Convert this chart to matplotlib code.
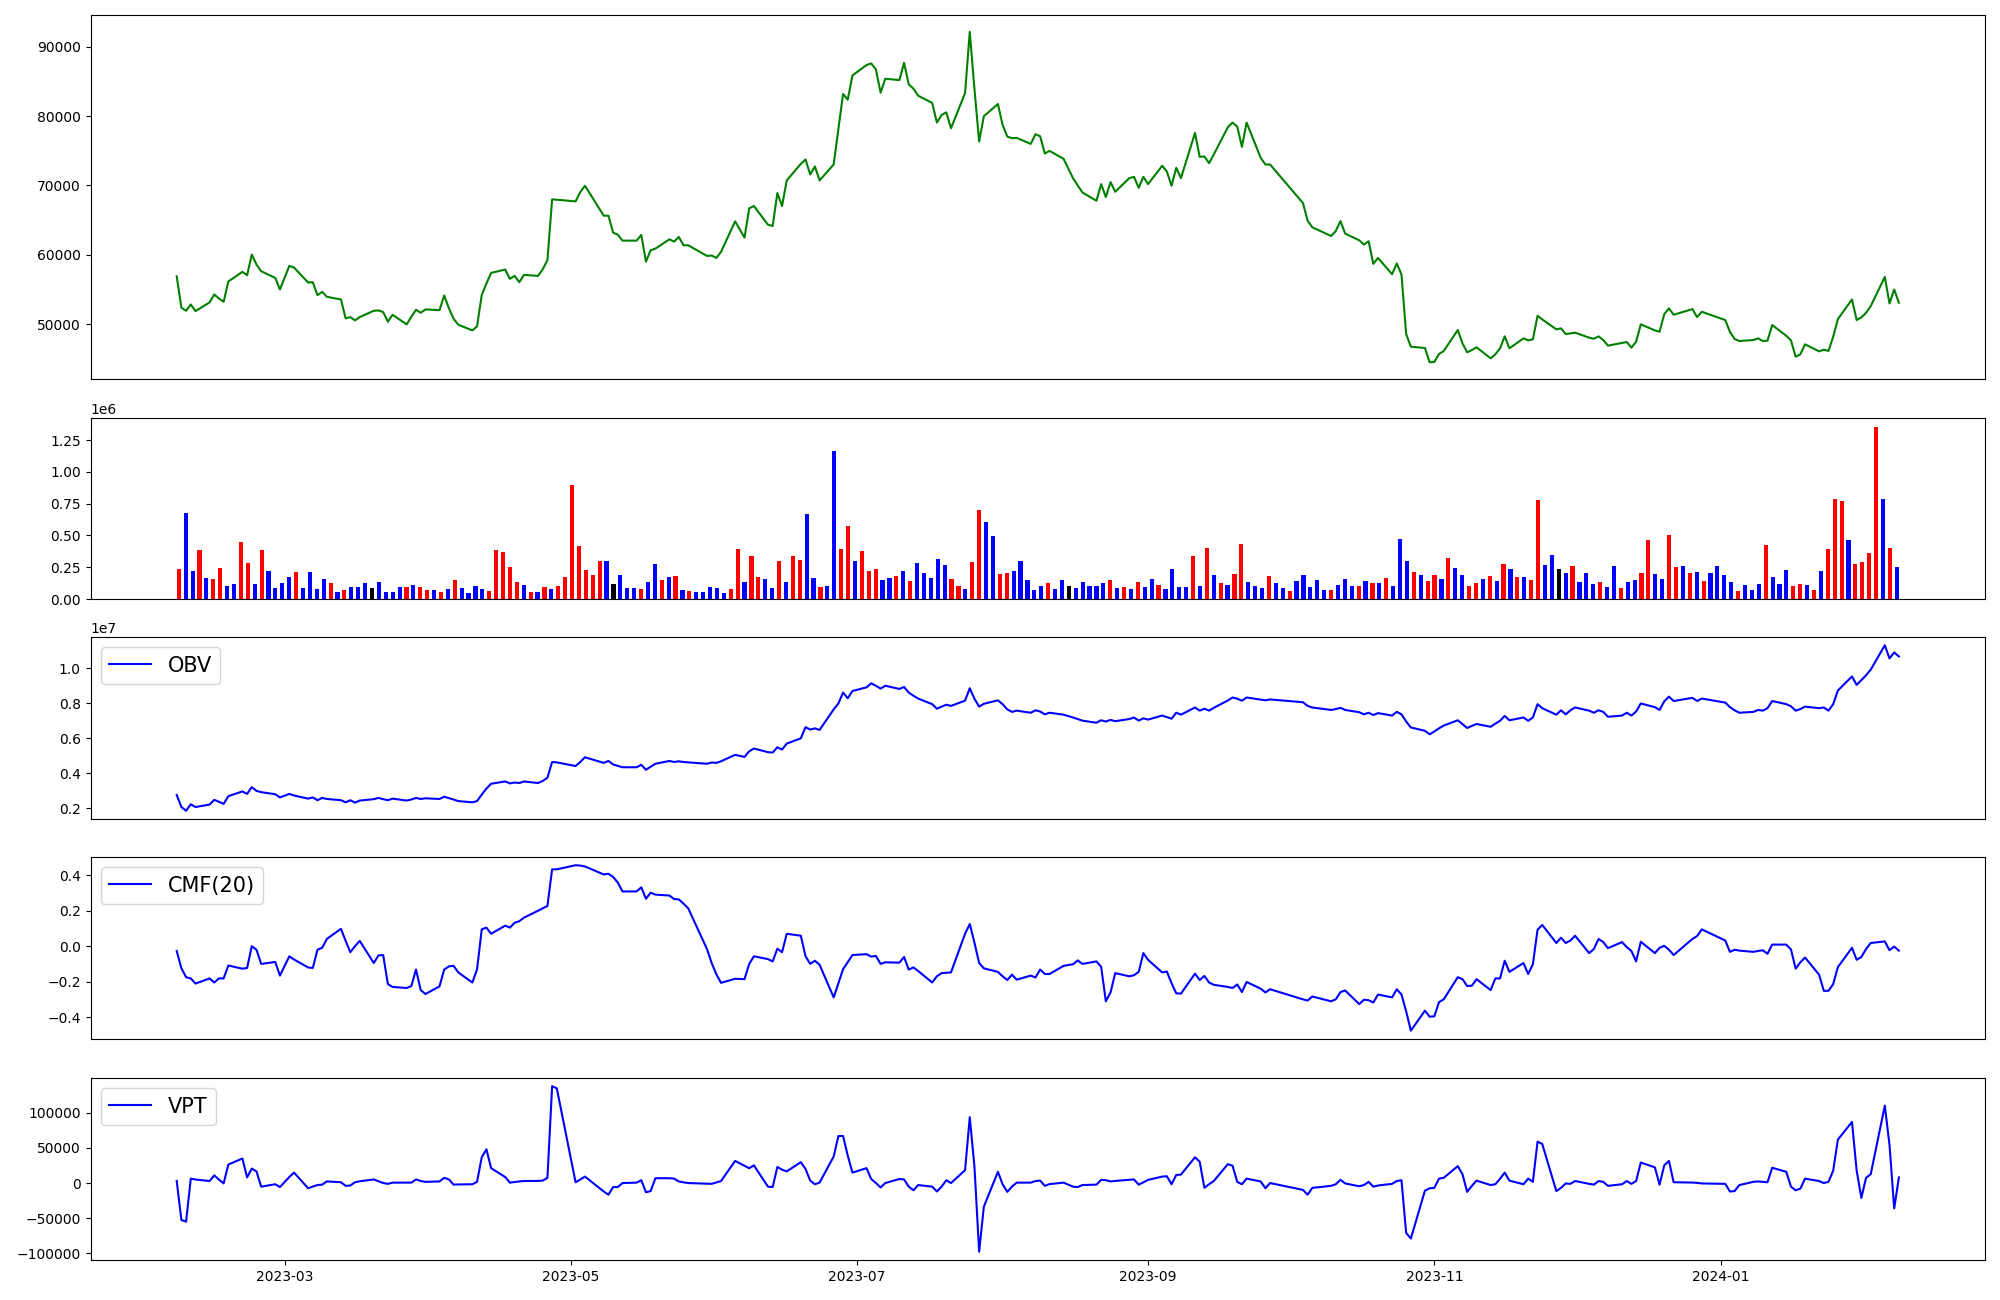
import matplotlib
matplotlib.use("Agg")
import matplotlib.pyplot as plt
import matplotlib.dates as mdates
import numpy as np
import pandas as pd

# ---- trading calendar (KRX business days) ----
start_date = "2023-02-06"
end_date = "2024-02-08"
holidays = ["2023-03-01", "2023-05-01", "2023-05-05", "2023-05-29", "2023-06-06",
            "2023-08-15", "2023-09-28", "2023-09-29", "2023-10-02", "2023-10-03",
            "2023-10-09", "2023-12-25", "2023-12-29", "2024-01-01"]

# ---- close price ----
close = [
    56900, 52360, 51930, 52840, 51880, 53130, 54280, 53700, 53220, 56150,
    57540, 57060, 60030, 58590, 57630, 56670, 55000, 58400, 58160, 56000,
    56050, 54180, 54660, 53940, 53560, 50830, 51020, 50540, 51020, 51930,
    51980, 51740, 50350, 51350, 49960, 51070, 52070, 51640, 52120, 52020,
    54130, 52300, 50780, 49920, 49100, 49680, 54180, 55860, 57390, 57870,
    56530, 56960, 56050, 57100, 56960, 57920, 59210, 67990, 67940, 67700,
    69040, 69950, 65640, 65640, 63190, 62900, 62040, 62040, 62860, 59020,
    60650, 60890, 62230, 61900, 62570, 61370, 61370, 59840, 59890, 59550,
    60420, 64820, 62470, 66700, 67030, 64340, 64150, 68900, 67030, 70720,
    73110, 73740, 71580, 72730, 70720, 73020, 78100, 83180, 82360, 85860,
    87350, 87590, 86730, 83370, 85380, 85190, 87680, 84570, 83950, 82940,
    81890, 79060, 80160, 80540, 78240, 83320, 92140, 83900, 76330, 79970,
    81740, 78720, 77040, 76810, 76850, 75990, 77380, 77090, 74600, 74980,
    73830, 71050, 70000, 68990, 67790, 70190, 68320, 70480, 69090, 71050,
    71240, 69660, 71240, 70190, 72830, 72010, 69950, 72540, 71050, 77570,
    74120, 74170, 73210, 74460, 78390, 79060, 78480, 75560, 79060, 73980,
    73020, 73020, 67460, 64920, 63960, 62710, 63430, 64870, 63050, 62090,
    61470, 61950, 58690, 59550, 57200, 58740, 57150, 48570, 46750, 46560,
    44500, 44550, 45700, 46130, 49150, 47230, 45940, 46270, 46660, 45070,
    45650, 46510, 48240, 46510, 47950, 47660, 47810, 51210, 50680, 49250,
    49390, 48570, 48670, 48770, 48050, 47900, 48240, 47710, 46900, 47280,
    47420, 46610, 47470, 49970, 49100, 48910, 51450, 52270, 51350, 52170,
    51020, 51790, 50590, 48860, 47860, 47570, 47710, 47950, 47570, 47620,
    49870, 48330, 47660, 45310, 45650, 47090, 46080, 46320, 46130, 48190,
    50730, 53560, 50590, 50970, 51640, 52600, 56820, 52980, 55000, 53080,
]

# ---- volume (millions of shares) ----
volume_m = [
    0.235, 0.68, 0.22, 0.384, 0.165, 0.157, 0.243, 0.10, 0.117, 0.446,
    0.282, 0.117, 0.384, 0.22, 0.086, 0.125, 0.172, 0.211, 0.086, 0.211,
    0.078, 0.157, 0.125, 0.055, 0.07, 0.094, 0.094, 0.125, 0.086, 0.133,
    0.055, 0.055, 0.094, 0.094, 0.11, 0.094, 0.07, 0.07, 0.055, 0.078,
    0.149, 0.086, 0.047, 0.10, 0.078, 0.063, 0.384, 0.368, 0.25, 0.133,
    0.11, 0.055, 0.055, 0.094, 0.078, 0.10, 0.172, 0.90, 0.415, 0.227,
    0.188, 0.298, 0.298, 0.117, 0.188, 0.086, 0.086, 0.078, 0.133, 0.274,
    0.149, 0.172, 0.18, 0.07, 0.063, 0.055, 0.055, 0.094, 0.086, 0.047,
    0.078, 0.39, 0.133, 0.337, 0.172, 0.157, 0.086, 0.298, 0.133, 0.337,
    0.305, 0.666, 0.165, 0.094, 0.10, 1.167, 0.39, 0.572, 0.298, 0.376,
    0.22, 0.235, 0.149, 0.165, 0.18, 0.22, 0.141, 0.282, 0.204, 0.165,
    0.313, 0.266, 0.157, 0.10, 0.078, 0.29, 0.697, 0.603, 0.493, 0.196,
    0.204, 0.22, 0.298, 0.149, 0.07, 0.10, 0.125, 0.078, 0.149, 0.10,
    0.086, 0.133, 0.10, 0.10, 0.125, 0.149, 0.086, 0.094, 0.078, 0.133,
    0.094, 0.157, 0.11, 0.078, 0.235, 0.094, 0.094, 0.337, 0.10, 0.40,
    0.188, 0.125, 0.11, 0.196, 0.431, 0.133, 0.10, 0.086, 0.18, 0.125,
    0.086, 0.063, 0.141, 0.188, 0.094, 0.149, 0.07, 0.07, 0.11, 0.157,
    0.10, 0.10, 0.141, 0.125, 0.125, 0.165, 0.10, 0.47, 0.298, 0.211,
    0.188, 0.141, 0.188, 0.157, 0.321, 0.243, 0.188, 0.10, 0.125, 0.157,
    0.18, 0.141, 0.274, 0.235, 0.172, 0.172, 0.149, 0.775, 0.266, 0.345,
    0.235, 0.204, 0.258, 0.133, 0.204, 0.117, 0.133, 0.094, 0.258, 0.086,
    0.133, 0.149, 0.204, 0.462, 0.196, 0.157, 0.501, 0.25, 0.258, 0.204,
    0.211, 0.141, 0.204, 0.258, 0.188, 0.133, 0.063, 0.11, 0.07, 0.117,
    0.423, 0.172, 0.117, 0.227, 0.10, 0.117, 0.11, 0.07, 0.22, 0.39,
    0.783, 0.768, 0.462, 0.274, 0.29, 0.36, 1.355, 0.783, 0.40, 0.25,
]

# candle colour of each day: r = up, b = down, k = flat
bar_colour_codes = (
    "rbbrbrrbbr" "rbrbbbbrbb" "bbrbrbbbkb" "bbbrbrrbrb" "rbbbbrrrrr"
    "brbrbrrrrr" "rrbkbbbrbb" "rbrbrbbbbb" "rrbrrbbrbr" "rbbrbbrrbr"
    "rrbbrbrbbb" "bbrrbrrbbr" "rbbbbbrbbk" "bbbbbrbrbr" "bbrbbbbrbr"
    "brbrrbbbrb" "brbbbbbrbb" "brbrbrbbbr" "brrbrbbrrb" "rbrbrbrrbb"
    "kbrbbbrbbr" "bbrrbbrrbr" "brbbbbrbbb" "rbbbrrbrbr" "rrbrrrrbrb"
)

# ---- On-Balance Volume (millions) ----
obv_m = [
    2.76, 2.07, 1.86, 2.23, 2.07, 2.21, 2.48, 2.37, 2.25, 2.69,
    2.96, 2.82, 3.21, 2.99, 2.92, 2.80, 2.62, 2.82, 2.73, 2.55,
    2.62, 2.46, 2.59, 2.53, 2.46, 2.34, 2.46, 2.32, 2.44, 2.52,
    2.59, 2.52, 2.46, 2.55, 2.44, 2.50, 2.59, 2.53, 2.57, 2.53,
    2.66, 2.58, 2.50, 2.41, 2.34, 2.41, 2.78, 3.12, 3.40, 3.53,
    3.42, 3.47, 3.44, 3.53, 3.44, 3.56, 3.74, 4.64, 4.62, 4.41,
    4.64, 4.91, 4.59, 4.70, 4.50, 4.42, 4.34, 4.34, 4.48, 4.20,
    4.37, 4.54, 4.70, 4.64, 4.68, 4.64, 4.62, 4.54, 4.61, 4.59,
    4.68, 5.05, 4.93, 5.25, 5.41, 5.20, 5.18, 5.48, 5.35, 5.69,
    5.99, 6.63, 6.49, 6.56, 6.47, 7.64, 7.98, 8.60, 8.28, 8.69,
    8.90, 9.13, 8.99, 8.83, 8.99, 8.81, 8.92, 8.60, 8.42, 8.26,
    7.94, 7.68, 7.80, 7.91, 7.84, 8.14, 8.85, 8.25, 7.80, 7.96,
    8.16, 7.94, 7.64, 7.50, 7.57, 7.45, 7.59, 7.52, 7.36, 7.45,
    7.34, 7.18, 7.09, 7.00, 6.88, 7.02, 6.95, 7.04, 6.97, 7.09,
    7.18, 7.00, 7.13, 7.06, 7.29, 7.20, 7.11, 7.45, 7.34, 7.75,
    7.57, 7.68, 7.57, 7.73, 8.15, 8.32, 8.25, 8.14, 8.32, 8.20,
    8.16, 8.21, 8.05, 7.84, 7.75, 7.61, 7.66, 7.73, 7.61, 7.48,
    7.36, 7.45, 7.32, 7.43, 7.29, 7.50, 7.36, 6.95, 6.61, 6.42,
    6.22, 6.38, 6.56, 6.72, 7.02, 6.80, 6.58, 6.70, 6.81, 6.65,
    6.83, 6.99, 7.27, 7.02, 7.18, 6.99, 7.18, 7.94, 7.71, 7.34,
    7.59, 7.36, 7.59, 7.75, 7.57, 7.45, 7.59, 7.50, 7.22, 7.29,
    7.45, 7.29, 7.52, 7.98, 7.77, 7.61, 8.10, 8.37, 8.12, 8.30,
    8.12, 8.26, 8.03, 7.77, 7.59, 7.45, 7.50, 7.61, 7.57, 7.71,
    8.12, 7.94, 7.82, 7.57, 7.66, 7.80, 7.71, 7.75, 7.57, 7.94,
    8.72, 9.52, 9.04, 9.31, 9.59, 9.91, 11.30, 10.55, 10.89, 10.66,
]

# ---- Chaikin Money Flow (20) ----
cmf20 = [
    -0.027, -0.125, -0.175, -0.182, -0.211, -0.182, -0.205, -0.182, -0.182, -0.109,
    -0.127, -0.123, 0.000, -0.020, -0.100, -0.089, -0.166, -0.057, -0.075, -0.120,
    -0.123, -0.020, -0.009, 0.041, 0.098, 0.030, -0.034, 0.000, 0.030, -0.095,
    -0.052, -0.050, -0.214, -0.230, -0.236, -0.225, -0.132, -0.248, -0.270, -0.227,
    -0.132, -0.114, -0.111, -0.148, -0.205, -0.132, 0.095, 0.105, 0.070, 0.116,
    0.105, 0.132, 0.141, 0.161, 0.200, 0.214, 0.227, 0.434, 0.434, 0.457,
    0.455, 0.450, 0.405, 0.409, 0.391, 0.359, 0.309, 0.309, 0.332, 0.268,
    0.302, 0.291, 0.286, 0.266, 0.264, 0.240, 0.214, -0.016, -0.095, -0.159,
    -0.207, -0.184, -0.186, -0.100, -0.057, -0.073, -0.086, -0.014, -0.034, 0.070,
    0.059, -0.057, -0.100, -0.082, -0.105, -0.289, -0.209, -0.130, -0.090, -0.050,
    -0.045, -0.059, -0.055, -0.100, -0.091, -0.093, -0.061, -0.132, -0.120, -0.140,
    -0.205, -0.170, -0.152, -0.150, -0.148, 0.070, 0.125, 0.020, -0.095, -0.125,
    -0.145, -0.170, -0.191, -0.161, -0.189, -0.166, -0.177, -0.132, -0.157, -0.157,
    -0.111, -0.102, -0.080, -0.100, -0.086, -0.116, -0.311, -0.261, -0.152, -0.170,
    -0.164, -0.145, -0.039, -0.077, -0.148, -0.143, -0.209, -0.266, -0.268, -0.155,
    -0.191, -0.168, -0.205, -0.218, -0.230, -0.236, -0.216, -0.259, -0.202, -0.240,
    -0.261, -0.243, -0.300, -0.307, -0.284, -0.311, -0.300, -0.259, -0.250, -0.327,
    -0.302, -0.305, -0.318, -0.273, -0.289, -0.243, -0.273, -0.368, -0.477, -0.364,
    -0.398, -0.396, -0.316, -0.300, -0.175, -0.186, -0.225, -0.223, -0.186, -0.248,
    -0.182, -0.182, -0.082, -0.145, -0.095, -0.157, -0.102, 0.093, 0.120, 0.018,
    0.048, 0.018, 0.032, 0.059, -0.039, -0.016, 0.041, 0.023, -0.011, 0.023,
    -0.005, -0.027, -0.086, 0.025, -0.039, -0.009, 0.002, -0.020, -0.050, 0.041,
    0.057, 0.095, 0.032, -0.032, -0.020, -0.025, -0.032, -0.027, -0.023, -0.043,
    0.009, 0.009, -0.018, -0.127, -0.091, -0.064, -0.161, -0.252, -0.252, -0.214,
    -0.118, -0.009, -0.077, -0.061, -0.016, 0.018, 0.027, -0.023, -0.002, -0.025,
]

# ---- Volume Price Trend ----
vpt = [
    3000, -52530, -54810, 6280, 5000, 2860, 10850, 5000, -570, 26270,
    34830, 7990, 20560, 16560, -5140, -1710, -5710, 8570, 14850, -7420,
    -5000, -2860, -2280, 2280, 1140, -4000, -3430, 1140, 2500, 5140,
    2500, 0, -1140, 570, 570, 570, 5140, 2860, 1710, 2280,
    7420, 5140, -2280, -2000, -1710, 1710, 36540, 47960, 21130, 8570,
    570, 1500, 2300, 2860, 3000, 3430, 7420, 137500, 134500, 1140,
    5000, 9140, -12000, -16560, -5710, -5710, 0, 570, 4000, -13130,
    -11420, 6850, 6850, 6280, 2280, 1000, 0, -1000, -1140, 800,
    2860, 31400, 24550, 21000, 25120, -5140, -5710, 22840, 19000, 16560,
    29690, 19990, 3430, -1710, 570, 37690, 66810, 66810, 38830, 14850,
    21130, 5710, 0, -6280, 0, 5710, 5140, -5140, -10280, -2860,
    -5140, -11990, -5140, 4000, 0, 18270, 93500, 23410, -97500, -33690,
    15990, -1710, -12560, -5000, 570, 570, 2860, 3430, -4000, -1500,
    570, -5140, -5710, -2860, -2280, 4570, 4000, 2280, 3000, 4500,
    5140, -2280, 1000, 4500, 9140, 9710, -1710, 11420, 11990, 36540,
    30260, -6850, -1710, 2860, 26840, 24550, 1710, -1710, 6280, 2280,
    -7420, 0, -9710, -16560, -6850, -4000, -1710, 4570, -570, -4570,
    -2860, 1710, -5140, -3500, -1140, 2860, 4000, -70800, -78800, -10850,
    -7420, -6850, 6280, 7420, 23980, 12560, -12560, -4000, 3430, -2860,
    -1710, 6000, 14850, 3430, -1710, 6280, 1710, 58810, 55390, -11420,
    -6850, -570, -1140, 2860, -1140, -2280, 2860, 1710, -4000, -1710,
    2860, -1140, 2860, 29120, 22270, -2280, 25120, 31400, 1140, 700,
    300, -570, -1140, -11990, -11420, -2860, 1710, 2280, 1710, 1140,
    21700, 15990, -5140, -10280, -7990, 6280, 2860, 0, 1710, 17700,
    61670, 86790, 17700, -21130, 7420, 12560, 110000, 54240, -36000, 7990,
]

dates = pd.bdate_range(start_date, end_date, freq="C", holidays=holidays)
n = len(dates)
assert n == len(close) == len(volume_m) == len(obv_m) == len(cmf20) == len(vpt) == len(bar_colour_codes)

colour_map = {"r": "red", "b": "blue", "k": "black"}
bar_colours = [colour_map[c] for c in bar_colour_codes]
volume = np.array(volume_m) * 1e6
obv = np.array(obv_m) * 1e6

fig = plt.figure(figsize=(20, 13), dpi=100)
left, width = 0.0453, 0.9472
ax_price = fig.add_axes([left, 0.7086, width, 0.2796])
ax_vol = fig.add_axes([left, 0.5392, width, 0.1392])
ax_obv = fig.add_axes([left, 0.3700, width, 0.1400], sharex=ax_price)
ax_cmf = fig.add_axes([left, 0.2008, width, 0.1400], sharex=ax_price)
ax_vpt = fig.add_axes([left, 0.0308, width, 0.1400], sharex=ax_price)

ax_price.plot(dates, close, color="green")

ax_vol.bar(np.arange(n), volume, width=0.6, color=bar_colours)
ax_vol.set_xticks([])

ax_obv.plot(dates, obv, color="blue", label="OBV")
ax_cmf.plot(dates, cmf20, color="blue", label="CMF(20)")
ax_vpt.plot(dates, vpt, color="blue", label="VPT")

for ax in (ax_obv, ax_cmf, ax_vpt):
    ax.legend(loc="upper left", fontsize=15)

for ax in (ax_price, ax_obv, ax_cmf):
    ax.tick_params(axis="x", bottom=False, labelbottom=False)

ax_vpt.xaxis.set_major_locator(mdates.MonthLocator(bymonth=[1, 3, 5, 7, 9, 11]))
ax_vpt.xaxis.set_major_formatter(mdates.DateFormatter("%Y-%m"))

fig.savefig("out.png", dpi=100)
